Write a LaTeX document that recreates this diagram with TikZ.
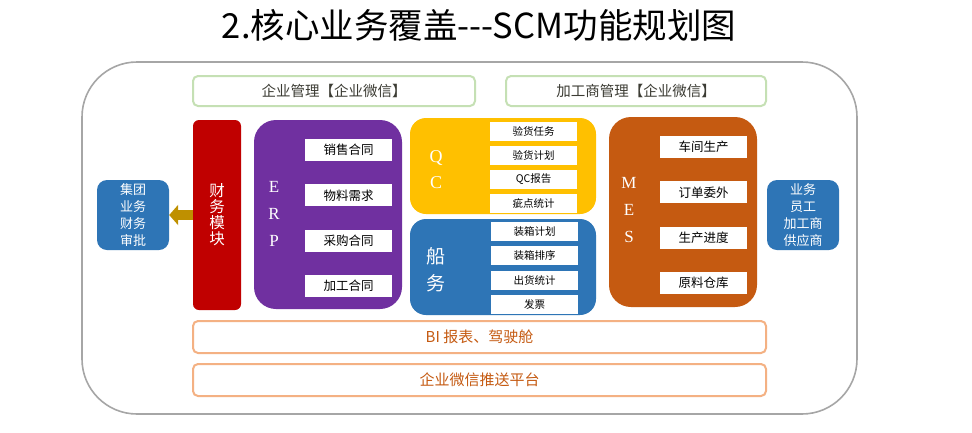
\documentclass[tikz,border=0pt]{standalone}
\usepackage{fontspec}
\setmainfont{Liberation Serif}
\newfontfamily\cjk{Noto Sans CJK SC}
\usepackage{tikz}
\usetikzlibrary{arrows.meta,positioning}
\usepackage{xcolor}
\definecolor{finred}{HTML}{C00000}
\definecolor{erppurple}{HTML}{7030A0}
\definecolor{qcgold}{HTML}{FFC000}
\definecolor{shipblue}{HTML}{2E75B6}
\definecolor{mesorange}{HTML}{C55A11}
\definecolor{arrowgold}{HTML}{BF9000}
\definecolor{wxgreen}{HTML}{C5E0B4}
\definecolor{wxtext}{HTML}{3C3C34}
\definecolor{barorange}{HTML}{F4B183}
\definecolor{bartext}{HTML}{C55A11}
\definecolor{framegray}{HTML}{A6A6A6}

\begin{document}
\begin{tikzpicture}[
    x=1pt, y=-1pt,
    node distance=23pt,
    frame/.style={
      rectangle, rounded corners=55pt, draw=framegray, line width=1.6pt,
      fill=white, minimum width=775pt, minimum height=352pt
    },
    block/.style={
      rectangle, rounded corners=22pt, inner sep=0pt
    },
    item/.style={
      rectangle, fill=white, minimum width=87pt, minimum height=22pt,
      inner sep=0pt, font=\cjk\fontsize{12.5}{14}\selectfont
    },
    smallitem/.style={
      item, minimum height=19pt, font=\cjk\fontsize{10.5}{12}\selectfont
    },
    sidebox/.style={
      rectangle, rounded corners=10pt, fill=shipblue, text=white,
      minimum width=72pt, minimum height=70pt, inner sep=0pt, align=center,
      font=\cjk\fontsize{13}{17}\selectfont
    },
    wxbox/.style={
      rectangle, rounded corners=5pt, draw=wxgreen, line width=2pt,
      minimum height=30pt, text=wxtext, font=\cjk\fontsize{14.5}{16}\selectfont
    },
    barbox/.style={
      rectangle, rounded corners=5pt, draw=barorange, line width=2pt,
      minimum width=573pt, minimum height=32pt, text=bartext,
      font=\cjk\fontsize{15}{17}\selectfont
    },
    letters/.style={
      text=white, align=center, inner sep=0pt,
      font=\fontsize{17}{27}\selectfont
    },
    finarrow/.style={
      draw=arrowgold, line width=10pt,
      -{Triangle[length=9pt, width=20pt]}
    }
  ]
  \useasboundingbox (0,0) rectangle (972,432);

  % --- title and frame ---
  \node[font=\cjk\fontsize{34.5}{38}\selectfont] (title) at (479,25)
    {2.核心业务覆盖---SCM功能规划图};
  \node[frame] (frame) at (469.5,238) {};

  % --- top bars ---
  \node[wxbox, minimum width=282pt] (wxA) at (334,91) {企业管理【企业微信】};
  \node[wxbox, minimum width=260pt] (wxB) at (636,91) {加工商管理【企业微信】};

  % --- finance ---
  \node[block, rounded corners=6pt, fill=finred, minimum width=48pt,
    minimum height=190pt, text=white, align=center,
    font=\cjk\fontsize{15.5}{16}\selectfont] (fin) at (217,215)
    {财\\务\\模\\块};
  \node[sidebox] (grpL) at (133,215) {集团\\业务\\财务\\审批};
  \draw[finarrow] (fin.west) -- (grpL.east);

  % --- ERP ---
  \node[block, fill=erppurple, minimum width=148pt, minimum height=189pt]
    (erp) at (328,214.5) {};
  \node[letters] (erpT) at (274,213.5) {E\\R\\P};
  \node[item] (e1) at (348.5,150) {销售合同};
  \node[item, below=of e1] (e2) {物料需求};
  \node[item, below=of e2] (e3) {采购合同};
  \node[item, below=of e3] (e4) {加工合同};

  % --- QC ---
  \node[block, rounded corners=16pt, fill=qcgold, minimum width=186pt,
    minimum height=96pt] (qc) at (503,166) {};
  \node[letters, font=\fontsize{18}{26}\selectfont] (qcT) at (436,170) {Q\\C};
  \node[smallitem] (q1) at (533.5,131.5) {验货任务};
  \node[smallitem, below=4.6pt of q1] (q2) {验货计划};
  \node[smallitem, below=4.6pt of q2] (q3) {QC报告};
  \node[smallitem, below=4.6pt of q3] (q4) {疵点统计};

  % --- shipping ---
  \node[block, rounded corners=16pt, fill=shipblue, minimum width=186pt,
    minimum height=96pt] (ship) at (503,267) {};
  \node[letters, font=\cjk\fontsize{19}{27}\selectfont] (shipT) at (436,269.5)
    {船\\务};
  \node[smallitem] (s1) at (534.5,231.5) {装箱计划};
  \node[smallitem, below=5pt of s1] (s2) {装箱排序};
  \node[smallitem, below=5pt of s2] (s3) {出货统计};
  \node[smallitem, below=5pt of s3] (s4) {发票};

  % --- MES ---
  \node[block, fill=mesorange, minimum width=148pt, minimum height=190pt]
    (mes) at (683,212) {};
  \node[letters] (mesT) at (629,210) {M\\E\\S};
  \node[item] (m1) at (703.5,147) {车间生产};
  \node[item, below=of m1] (m2) {订单委外};
  \node[item, below=of m2] (m3) {生产进度};
  \node[item, below=of m3] (m4) {原料仓库};
  \node[sidebox] (grpR) at (803,215) {业务\\员工\\加工商\\供应商};

  % --- bottom bars ---
  \node[barbox] (bi) at (479.5,337) {BI 报表、驾驶舱};
  \node[barbox] (push) at (479.5,380) {企业微信推送平台};
\end{tikzpicture}
\end{document}
